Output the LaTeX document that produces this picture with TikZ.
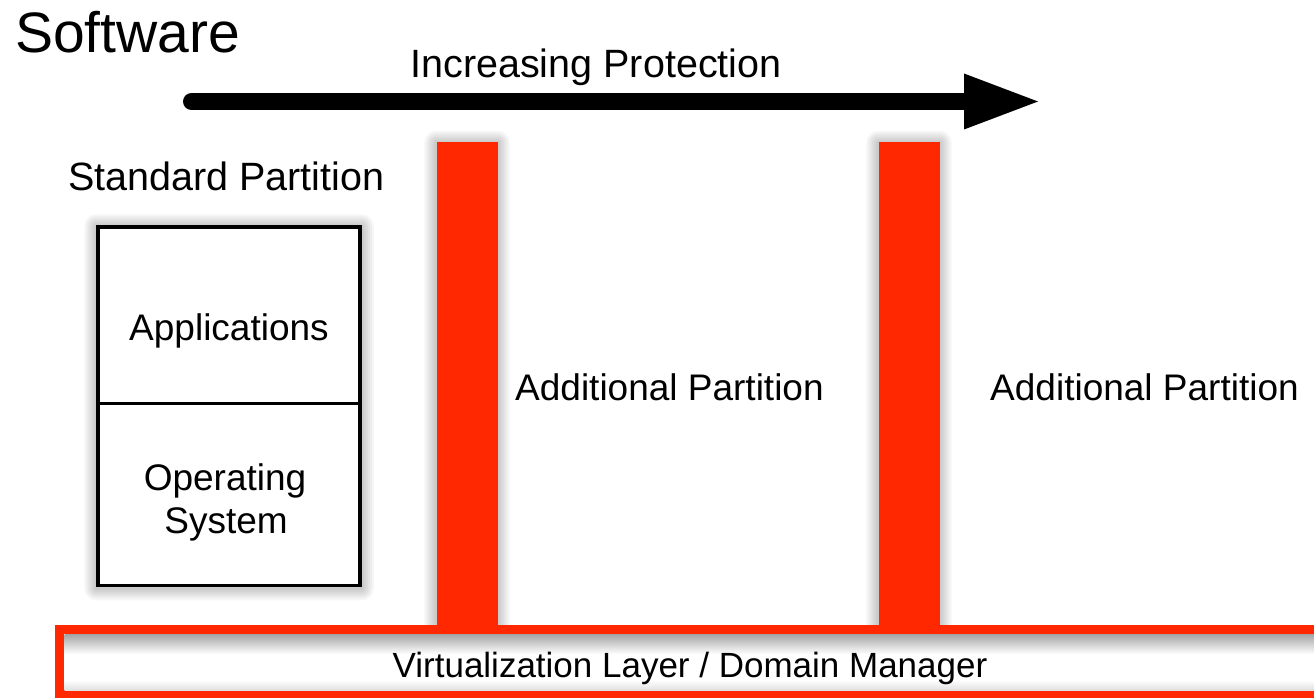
\documentclass[tikz,border=0pt]{standalone}
\usepackage{fontspec}
\setmainfont{Liberation Sans}
\usetikzlibrary{backgrounds}
\definecolor{barred}{RGB}{255,40,0}
\begin{document}
\begin{tikzpicture}[x=1pt,y=-1pt,
  lbl/.style={inner sep=0pt, font=\fontsize{37}{34}\selectfont},
  head/.style={inner sep=0pt, font=\fontsize{39.5}{42}\selectfont},
  wall/.style={fill=barred, draw=none, inner sep=0pt,
      minimum width=61pt, minimum height=485pt},
  pane/.style={draw=black, line width=3.5pt, fill=white, inner sep=0pt,
      minimum width=262pt},
  haze/.style={fill=black, opacity=0.035}
]
\useasboundingbox (0,0) rectangle (1314,698);

% heading
\node[anchor=base west, inner sep=0pt, font=\fontsize{57}{60}\selectfont]
  (title) at (15,53) {Software};

% direction arrow
\node[head, anchor=base] (dir) at (596,78) {Increasing Protection};
\coordinate (tail) at (191.5,101.5);
\coordinate (neck) at (964,101.5);
\coordinate (tip)  at (1038,101.5);
\draw[line width=17pt, line cap=round] (tail) -- (neck);
\fill ([yshift=28pt]neck) -- (tip) -- ([yshift=-28pt]neck) -- cycle;

% standard partition
\node[head, anchor=base west] (stdhead) at (68,190) {Standard Partition};
\node[pane, minimum height=358.5pt] (stack) at (229,406.25) {};
\coordinate (divl) at (98,403.5);
\coordinate (divr) at (360,403.5);
\draw[line width=3.5pt] (divl) -- (divr);
\node[lbl, anchor=base] (apps) at (229,340) {Applications};
\node[lbl, anchor=base] (os1) at (225,490) {Operating};
\node[lbl, anchor=base] (os2) at (226,533) {System};

% separating walls
\node[wall] (wall1) at (467,384.5) {};
\node[wall] (wall2) at (909,384.5) {};

% additional partitions
\node[lbl, anchor=base west] (add1) at (515,400) {Additional Partition};
\node[lbl, anchor=base west] (add2) at (990,400) {Additional Partition};

% virtualization layer
\node[draw=barred, line width=9.5pt, fill=white, inner sep=0pt,
      minimum width=1262.5pt, minimum height=65pt] (vm) at (690.75,662) {};
\shade[top color=black!35, bottom color=white] (64.5,634.5) rectangle (1314,654);
\shade[top color=white, bottom color=black!12] (64.5,680) rectangle (1314,690);
\node[inner sep=0pt, anchor=base, font=\fontsize{35}{38}\selectfont]
  (vmtxt) at (690,677) {Virtualization Layer / Domain Manager};

% white ground and soft shadows behind the box and the walls
\begin{scope}[on background layer]
  \fill[white] (0,0) rectangle (1314,698);
  \foreach \s in {stack,wall1,wall2}{
    \foreach \d in {2,4,...,12}{
      \fill[haze, rounded corners=\d pt]
        ([xshift=-\d pt, yshift=\d pt-1pt]\s.north west) rectangle
        ([xshift=\d pt, yshift=-\d pt-1pt]\s.south east);
    }
  }
\end{scope}
\end{tikzpicture}
\end{document}
